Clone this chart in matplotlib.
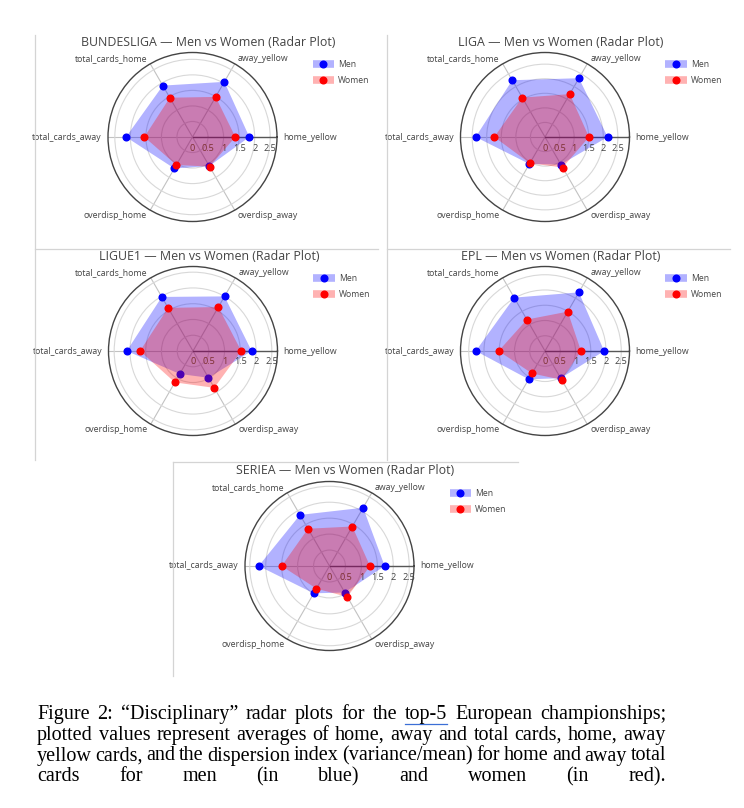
import numpy as np
import matplotlib
matplotlib.use("Agg")
import matplotlib.pyplot as plt
from matplotlib.lines import Line2D
from matplotlib.transforms import offset_copy

W, H = 744, 808

# chart data
categories = ["home_yellow", "away_yellow", "total_cards_home",
              "total_cards_away", "overdisp_home", "overdisp_away"]
leagues = ["BUNDESLIGA", "LIGA", "LIGUE1", "EPL", "SERIEA"]

men_bundesliga = [1.83, 2.05, 1.91, 2.14, 1.17, 1.08]
women_bundesliga = [1.38, 1.49, 1.46, 1.55, 1.04, 1.10]
men_liga = [2.15, 2.33, 2.25, 2.38, 1.07, 1.09]
women_liga = [1.51, 1.70, 1.56, 1.74, 1.04, 1.21]
men_ligue1 = [1.86, 2.00, 1.98, 2.10, 0.84, 0.98]
women_ligue1 = [1.53, 1.61, 1.58, 1.68, 1.15, 1.35]
men_epl = [1.94, 2.22, 2.02, 2.27, 1.07, 1.03]
women_epl = [1.18, 1.49, 1.19, 1.52, 0.85, 1.09]
men_seriea = [1.73, 2.11, 1.85, 2.22, 0.99, 0.96]
women_seriea = [1.27, 1.43, 1.35, 1.50, 0.82, 1.12]

radial_max = [2.72, 2.90, 2.68, 2.77, 2.65]
radial_ticks = [0, 0.5, 1, 1.5, 2, 2.5]

caption_lines = [
    "Figure 2: \u201cDisciplinary\u201d radar plots for the top-5 European championships;",
    "plotted values represent averages of home, away and total cards, home, away",
    "yellow cards, and the dispersion index (variance/mean) for home and away total",
    "cards for men (in blue) and women (in red).",
]

men_all = [men_bundesliga, men_liga, men_ligue1, men_epl, men_seriea]
women_all = [women_bundesliga, women_liga, women_ligue1, women_epl, women_seriea]

MEN_FILL = (0, 0, 1, 0.3)
WOMEN_FILL = (1, 0, 0, 0.3)
GREY = "#444444"
FONT = "Open Sans"

fig = plt.figure(figsize=(W / 100, H / 100), dpi=100)

# panel frames (light lines from the screenshots)
def hline(y, x0, x1):
    fig.add_artist(Line2D([x0 / W, x1 / W], [1 - y / H, 1 - y / H], color="#d4d4d4", lw=0.9))

def vline(x, y0, y1):
    fig.add_artist(Line2D([x / W, x / W], [1 - y0 / H, 1 - y1 / H], color="#d4d4d4", lw=0.9))

vline(34.5, 35, 460)
vline(387, 35, 460)
hline(248.5, 34.5, 378)
hline(248.5, 387, 730)
hline(462, 173, 518)
vline(173, 462, 676)

centers = [(192.5, 137), (545, 137), (193, 351), (545, 351), (329.5, 566)]
R = 84.5

theta = np.arange(len(categories)) * 2 * np.pi / len(categories)
theta_closed = np.append(theta, theta[0])

for i, league in enumerate(leagues):
    cx, cy = centers[i]
    rmax = radial_max[i]
    ax = fig.add_axes([(cx - R) / W, 1 - (cy + R) / H, 2 * R / W, 2 * R / H],
                      projection="polar")
    ax.set_axisbelow(True)
    ax.set_ylim(0, rmax)
    ax.set_xticks(theta)
    ax.set_xticklabels([])
    ax.set_yticks(radial_ticks)
    ax.set_yticklabels([])
    ax.xaxis.grid(True, color="#c2c2c2", lw=0.8)
    ax.yaxis.grid(True, color="#d8d8d8", lw=0.8)
    ax.spines["polar"].set_color(GREY)
    ax.spines["polar"].set_linewidth(1.0)
    ax.tick_params(axis="x", length=4, width=0.8, color=GREY, direction="out")
    ax.tick_params(axis="y", length=0)

    # radial axis line along home_yellow
    ax.plot([0, 0], [0, rmax], color=GREY, lw=1.0, alpha=0.85, zorder=1.6)

    men = np.array(men_all[i])
    women = np.array(women_all[i])
    ax.fill(theta_closed, np.append(men, men[0]), color=MEN_FILL, lw=0, zorder=2)
    ax.plot(theta, men, ls="", marker="o", ms=4.8, color="blue", zorder=3)
    ax.fill(theta_closed, np.append(women, women[0]), color=WOMEN_FILL, lw=0, zorder=4)
    ax.plot(theta, women, ls="", marker="o", ms=4.8, color="red", zorder=5)

    # radial tick labels under the axis
    tr = offset_copy(ax.transData, fig=fig, y=-11, units="dots")
    for r in radial_ticks:
        ax.text(0, r, f"{r:g}", transform=tr, ha="center", va="center",
                fontsize=6.6, color=GREY, family=FONT)

    # angular labels
    for ang, cat in zip(theta, categories):
        c, s = np.cos(ang), np.sin(ang)
        ha = "left" if c > 0.1 else ("right" if c < -0.1 else "center")
        trl = offset_copy(ax.transData, fig=fig, x=6 * c, y=6 * s, units="dots")
        ax.text(ang, rmax, cat, transform=trl, ha=ha, va="center",
                fontsize=6.3, color=GREY, family=FONT, clip_on=False)

    fig.text((cx + 16) / W, 1 - (cy - 95) / H, f"{league} \u2014 Men vs Women (Radar Plot)",
             ha="center", va="center", fontsize=8.9, color=GREY, family=FONT)

    handles = [
        (Line2D([], [], color=MEN_FILL, lw=5.5, solid_capstyle="butt"),
         Line2D([], [], ls="", marker="o", ms=4.8, color="blue")),
        (Line2D([], [], color=WOMEN_FILL, lw=5.5, solid_capstyle="butt"),
         Line2D([], [], ls="", marker="o", ms=4.8, color="red")),
    ]
    ax.legend(handles, ["Men", "Women"], loc="upper left",
              bbox_to_anchor=((cx + 120) / W, 1 - (cy - 77) / H),
              bbox_transform=fig.transFigure, frameon=False,
              prop={"family": FONT, "size": 6.2}, labelcolor=GREY,
              handlelength=2.5, handletextpad=0.5, labelspacing=0.8,
              borderpad=0, borderaxespad=0)

# caption, justified like the source document
fig.canvas.draw()
renderer = fig.canvas.get_renderer()
x_left, x_right = 37, 666
baselines = [719, 740, 760.5, 781]
for line, base in zip(caption_lines, baselines):
    words = line.split(" ")
    texts = [fig.text(0, 1 - base / H, w, ha="left", va="baseline", fontsize=14.5,
                      family="Liberation Serif", color="black") for w in words]
    widths = [t.get_window_extent(renderer).width for t in texts]
    gap = (x_right - x_left - sum(widths)) / (len(words) - 1)
    x = x_left
    for t, w, wd in zip(texts, words, widths):
        t.set_x(x / W)
        if w == "top-5":
            fig.add_artist(Line2D([x / W, (x + wd) / W], [1 - (base + 4.5) / H] * 2,
                                  color="#3b6fd6", lw=0.9))
        x += wd + gap

fig.savefig("out.png", dpi=100)
